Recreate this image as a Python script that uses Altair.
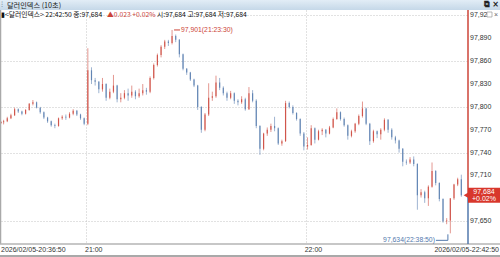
import altair as alt
import pandas as pd

# ---- data (per-minute OHLC) ----
first_minute = 20 * 60 + 36          # 20:36
first_open = 97.779
highs = [97.781, 97.783, 97.787, 97.791, 97.799, 97.798, 97.795, 97.797, 97.805, 97.809,
         97.807, 97.800, 97.794, 97.787, 97.782, 97.778, 97.786, 97.789, 97.790, 97.793,
         97.797, 97.796, 97.791, 97.786,
         97.877, 97.852, 97.838, 97.834, 97.838, 97.831, 97.824, 97.842, 97.829, 97.818,
         97.822, 97.824, 97.828, 97.822, 97.824, 97.830, 97.825, 97.840, 97.857, 97.870,
         97.881, 97.888, 97.888, 97.901, 97.895, 97.889, 97.870, 97.851, 97.846, 97.837,
         97.829, 97.801, 97.792, 97.831, 97.820, 97.841, 97.838, 97.827, 97.820, 97.821,
         97.819, 97.810, 97.814, 97.812, 97.826, 97.822, 97.810, 97.776, 97.766, 97.773,
         97.778, 97.787, 97.773, 97.757, 97.808, 97.807, 97.802, 97.793, 97.785, 97.767,
         97.760, 97.776, 97.773, 97.770, 97.772, 97.771, 97.775, 97.786, 97.798, 97.794,
         97.786, 97.777, 97.770, 97.779, 97.790, 97.807, 97.799, 97.779, 97.770, 97.769,
         97.772, 97.785, 97.784, 97.772, 97.762, 97.757, 97.746, 97.731, 97.734, 97.735,
         97.726, 97.692, 97.690, 97.697, 97.727, 97.717, 97.701, 97.680, 97.654, 97.680,
         97.699, 97.707, 97.711]
lows = [97.778, 97.777, 97.780, 97.784, 97.788, 97.792, 97.789, 97.790, 97.795, 97.802,
        97.798, 97.791, 97.784, 97.779, 97.774, 97.772, 97.774, 97.783, 97.783, 97.785,
        97.789, 97.788, 97.783, 97.776,
        97.776, 97.830, 97.828, 97.818, 97.820, 97.808, 97.810, 97.818, 97.806, 97.806,
        97.810, 97.808, 97.812, 97.810, 97.812, 97.815, 97.816, 97.818, 97.836, 97.853,
        97.865, 97.876, 97.880, 97.882, 97.885, 97.865, 97.848, 97.842, 97.834, 97.826,
        97.796, 97.766, 97.768, 97.788, 97.808, 97.812, 97.822, 97.815, 97.808, 97.810,
        97.804, 97.802, 97.804, 97.795, 97.796, 97.806, 97.772, 97.737, 97.743, 97.762,
        97.767, 97.768, 97.750, 97.749, 97.754, 97.798, 97.790, 97.782, 97.762, 97.743,
        97.744, 97.749, 97.752, 97.756, 97.763, 97.760, 97.764, 97.772, 97.783, 97.782,
        97.774, 97.757, 97.760, 97.766, 97.776, 97.786, 97.776, 97.750, 97.753, 97.759,
        97.757, 97.768, 97.766, 97.757, 97.752, 97.740, 97.722, 97.724, 97.725, 97.722,
        97.665, 97.681, 97.674, 97.670, 97.694, 97.697, 97.676, 97.648, 97.646, 97.634,
        97.678, 97.696, 97.682]
closes = [97.780, 97.781, 97.785, 97.789, 97.797, 97.794, 97.791, 97.796, 97.804, 97.806,
          97.799, 97.793, 97.786, 97.781, 97.776, 97.775, 97.785, 97.787, 97.786, 97.791,
          97.795, 97.790, 97.785, 97.778,
          97.848, 97.835, 97.833, 97.823, 97.830, 97.812, 97.820, 97.828, 97.810, 97.812,
          97.818, 97.815, 97.820, 97.814, 97.818, 97.822, 97.820, 97.838, 97.855, 97.868,
          97.879, 97.886, 97.884, 97.893, 97.888, 97.869, 97.850, 97.845, 97.836, 97.828,
          97.800, 97.770, 97.790, 97.812, 97.814, 97.832, 97.825, 97.818, 97.812, 97.818,
          97.808, 97.806, 97.810, 97.797, 97.818, 97.808, 97.775, 97.745, 97.765, 97.770,
          97.775, 97.772, 97.752, 97.755, 97.805, 97.800, 97.792, 97.784, 97.765, 97.748,
          97.750, 97.772, 97.757, 97.768, 97.770, 97.765, 97.773, 97.784, 97.793, 97.784,
          97.776, 97.762, 97.768, 97.778, 97.788, 97.798, 97.778, 97.755, 97.768, 97.764,
          97.770, 97.783, 97.770, 97.760, 97.756, 97.745, 97.728, 97.727, 97.731, 97.725,
          97.684, 97.688, 97.680, 97.695, 97.716, 97.700, 97.679, 97.650, 97.651, 97.680,
          97.698, 97.705, 97.684]

y_ticks = [97.650, 97.710, 97.740, 97.770, 97.800, 97.830, 97.860, 97.890, 97.920]
x_ticks = [21 * 60, 22 * 60]
x_tick_labels = ["21:00", "22:00"]
start_label = "2026/02/05-20:36:50"
end_label = "2026/02/05-22:42:50"
title_text = "달러인덱스 (10초)"
info_black1 = "▮<달러인덱스> 22:42:50 종:97,684"
info_red = "▲0.023  +0.02%"
info_black2 = "시:97,684 고:97,684 저:97,684"
last_price = 97.684
last_change = "+0.02%"
max_point = {"t": 21 * 60 + 23.5, "p": 97.901, "label": "97,901(21:23:30)"}
min_point = {"t": 22 * 60 + 38 + 50 / 60, "p": 97.634, "label": "97,634(22:38:50)"}

RED = "#cc4438"
BLUE = "#5279ad"

rows = []
prev = first_open
for i, (h, l, c) in enumerate(zip(highs, lows, closes)):
    t = first_minute + i + 0.5
    if i == 0:
        t = first_minute + 50 / 60
    rows.append({"t": t, "o": prev, "h": h, "l": l, "c": c,
                 "dir": "up" if c >= prev else "down"})
    prev = c
df = pd.DataFrame(rows)

W, H = 467, 234
xs = alt.Scale(domain=[1236.514, 1364.05], nice=False, zero=False)
ys = alt.Scale(domain=[97.620, 97.9272], nice=False, zero=False)
cscale = alt.Scale(domain=["up", "down"], range=[RED, BLUE])

base = alt.Chart(df)
xenc = alt.X("t:Q", scale=xs,
             axis=alt.Axis(values=x_ticks, labels=False, grid=True, gridDash=[1, 2],
                           gridColor="#c4c4c4", ticks=False, domain=False, title=None))
wick = base.mark_rule(strokeWidth=0.8, opacity=0.7).encode(
    x=xenc,
    y=alt.Y("l:Q", scale=ys,
            axis=alt.Axis(orient="right", values=y_ticks, labels=False,
                          grid=True, gridDash=[1, 2], gridColor="#c4c4c4",
                          ticks=False, domain=False, title=None)),
    y2="h:Q",
    color=alt.Color("dir:N", scale=cscale, legend=None),
)
body = base.mark_rule(strokeWidth=1.2, opacity=0.8).encode(
    x=alt.X("t:Q", scale=xs), y=alt.Y("o:Q", scale=ys), y2="c:Q",
    color=alt.Color("dir:N", scale=cscale, legend=None),
)

# axis labels drawn as text through the scales
ylab_df = pd.DataFrame({"v": y_ticks,
                        "s": [f"{v:.3f}".replace(".", ",") for v in y_ticks]})
ylabels = alt.Chart(ylab_df).mark_text(font="Liberation Sans", fontSize=7, color="#333",
                                       align="left", baseline="middle").encode(
    x=alt.value(470), y=alt.Y("v:Q", scale=ys), text="s:N")
xlab_df = pd.DataFrame({"v": x_ticks, "s": x_tick_labels})
xlabels = alt.Chart(xlab_df).mark_text(font="Liberation Sans", fontSize=7, color="#333",
                                       align="left", baseline="middle", dx=-1).encode(
    x=alt.X("v:Q", scale=xs), y=alt.value(H + 5.8), text="s:N")

one = alt.Chart(alt.Data(values=[{}]))
last_df = pd.DataFrame([{"p": last_price, "l1": f"{last_price:.3f}".replace(".", ","), "l2": last_change}])
lastc = alt.Chart(last_df)

red_axis = lastc.mark_rule(color=RED, strokeWidth=1.5).encode(
    x=alt.value(468), y=alt.Y("p:Q", scale=ys), y2=alt.value(0))
blue_axis = lastc.mark_rule(color=BLUE, strokeWidth=1.5).encode(
    x=alt.value(468), y=alt.Y("p:Q", scale=ys), y2=alt.value(H))
tag = lastc.mark_rect(color="#d8372c", yOffset=-7.5, y2Offset=7.5).encode(
    x=alt.value(468), x2=alt.value(500), y=alt.Y("p:Q", scale=ys), y2="p:Q")
tag_arrow = lastc.mark_point(shape="triangle-left", filled=True, color="#d8372c",
                             size=30, opacity=1).encode(
    x=alt.value(466), y=alt.Y("p:Q", scale=ys))
tag_t1 = lastc.mark_text(color="white", fontSize=7, font="Liberation Sans", dy=-3.6).encode(
    x=alt.value(484), y=alt.Y("p:Q", scale=ys), text="l1:N")
tag_t2 = lastc.mark_text(color="white", fontSize=7, font="Liberation Sans", dy=3.9).encode(
    x=alt.value(484), y=alt.Y("p:Q", scale=ys), text="l2:N")

# annotations
mx = alt.Chart(pd.DataFrame([max_point]))
mx_line = mx.mark_rule(color=RED, strokeWidth=1, xOffset=2, x2Offset=8).encode(
    x=alt.X("t:Q", scale=xs), x2="t:Q", y=alt.Y("p:Q", scale=ys))
mx_text = mx.mark_text(color=RED, fontSize=6.8, font="Liberation Sans", align="left",
                       baseline="middle", dx=9).encode(
    x=alt.X("t:Q", scale=xs), y=alt.Y("p:Q", scale=ys), text="label:N")
mn = alt.Chart(pd.DataFrame([min_point]))
mn_hline = mn.mark_rule(color=BLUE, strokeWidth=1, xOffset=-12, yOffset=7, y2Offset=7).encode(
    x=alt.X("t:Q", scale=xs), x2="t:Q", y=alt.Y("p:Q", scale=ys))
mn_vline = mn.mark_rule(color=BLUE, strokeWidth=1, yOffset=1, y2Offset=7).encode(
    x=alt.X("t:Q", scale=xs), y=alt.Y("p:Q", scale=ys), y2="p:Q")
mn_text = mn.mark_text(color=BLUE, fontSize=6.8, font="Liberation Sans", align="right",
                       baseline="middle", dx=-13, dy=7).encode(
    x=alt.X("t:Q", scale=xs), y=alt.Y("p:Q", scale=ys), text="label:N")

# window chrome
title_bar = one.mark_rect(fill=alt.Gradient(gradient="linear",
                                            stops=[alt.GradientStop(color="#e2edf6", offset=0),
                                                   alt.GradientStop(color="#c5d8e8", offset=1)],
                                            x1=0, x2=0, y1=0, y2=1)).encode(
    x=alt.value(0), x2=alt.value(500), y=alt.value(-10), y2=alt.value(0))
title_txt = one.mark_text(text=title_text, font="Noto Sans CJK KR", fontSize=7.2,
                          color="#1a1a1a", align="left", baseline="middle").encode(
    x=alt.value(7), y=alt.value(-4.3))
grip = one.mark_text(text="⁝", fontSize=8, color="#7a8ea0", align="left", baseline="middle").encode(
    x=alt.value(1), y=alt.value(-5))
icons = one.mark_text(text="⧉ ×", fontSize=8, fontWeight="bold", color="#222",
                      align="right", baseline="middle", font="DejaVu Sans").encode(
    x=alt.value(499), y=alt.value(-5))
info1 = one.mark_text(text=info_black1, font="Noto Sans CJK KR", fontSize=6.8, color="#111",
                      align="left", baseline="middle").encode(x=alt.value(1), y=alt.value(5))
info2 = one.mark_text(text=info_red, font="Noto Sans CJK KR", fontSize=6.8, color=RED,
                      align="left", baseline="middle").encode(x=alt.value(107), y=alt.value(5))
info3 = one.mark_text(text=info_black2, font="Noto Sans CJK KR", fontSize=6.8, color="#111",
                      align="left", baseline="middle").encode(x=alt.value(157), y=alt.value(5))
mini_box = one.mark_rect(fill="white", stroke="#999", strokeWidth=0.7).encode(
    x=alt.value(487), x2=alt.value(492), y=alt.value(2), y2=alt.value(7))
mini_x = one.mark_text(text="×", fontSize=7, color="#666", align="center", baseline="middle").encode(
    x=alt.value(496), y=alt.value(4.5))
left_border = one.mark_rule(color="#a9a9a9", strokeWidth=1.5).encode(
    x=alt.value(0.5), y=alt.value(0), y2=alt.value(H))
axis_line = one.mark_rule(color="#b5b5b5", strokeWidth=1.5).encode(
    x=alt.value(0), x2=alt.value(500), y=alt.value(H))
bottom_line = one.mark_rule(color="#8c8c8c", strokeWidth=1.5).encode(
    x=alt.value(0), x2=alt.value(500), y=alt.value(H + 12))
start_txt = one.mark_text(text=start_label, font="Liberation Sans", fontSize=7, color="#333",
                          align="left", baseline="middle").encode(x=alt.value(1), y=alt.value(H + 5.8))
end_txt = one.mark_text(text=end_label, font="Liberation Sans", fontSize=7, color="#333",
                        align="right", baseline="middle").encode(x=alt.value(499), y=alt.value(H + 5.8))

chart = alt.layer(
    wick, body, ylabels, xlabels, left_border, axis_line, bottom_line, start_txt, end_txt,
    red_axis, blue_axis, tag, tag_arrow, tag_t1, tag_t2,
    mx_line, mx_text, mn_hline, mn_vline, mn_text,
    title_bar, title_txt, grip, icons, info1, info2, info3, mini_box, mini_x,
).properties(
    width=W, height=H,
    autosize=alt.AutoSizeParams(type="none"),
    padding={"left": 0, "top": 10, "right": 33, "bottom": 13},
    background="white",
).configure_view(stroke=None)

chart.save("out.html", embed_options={"renderer": "svg", "actions": False})
